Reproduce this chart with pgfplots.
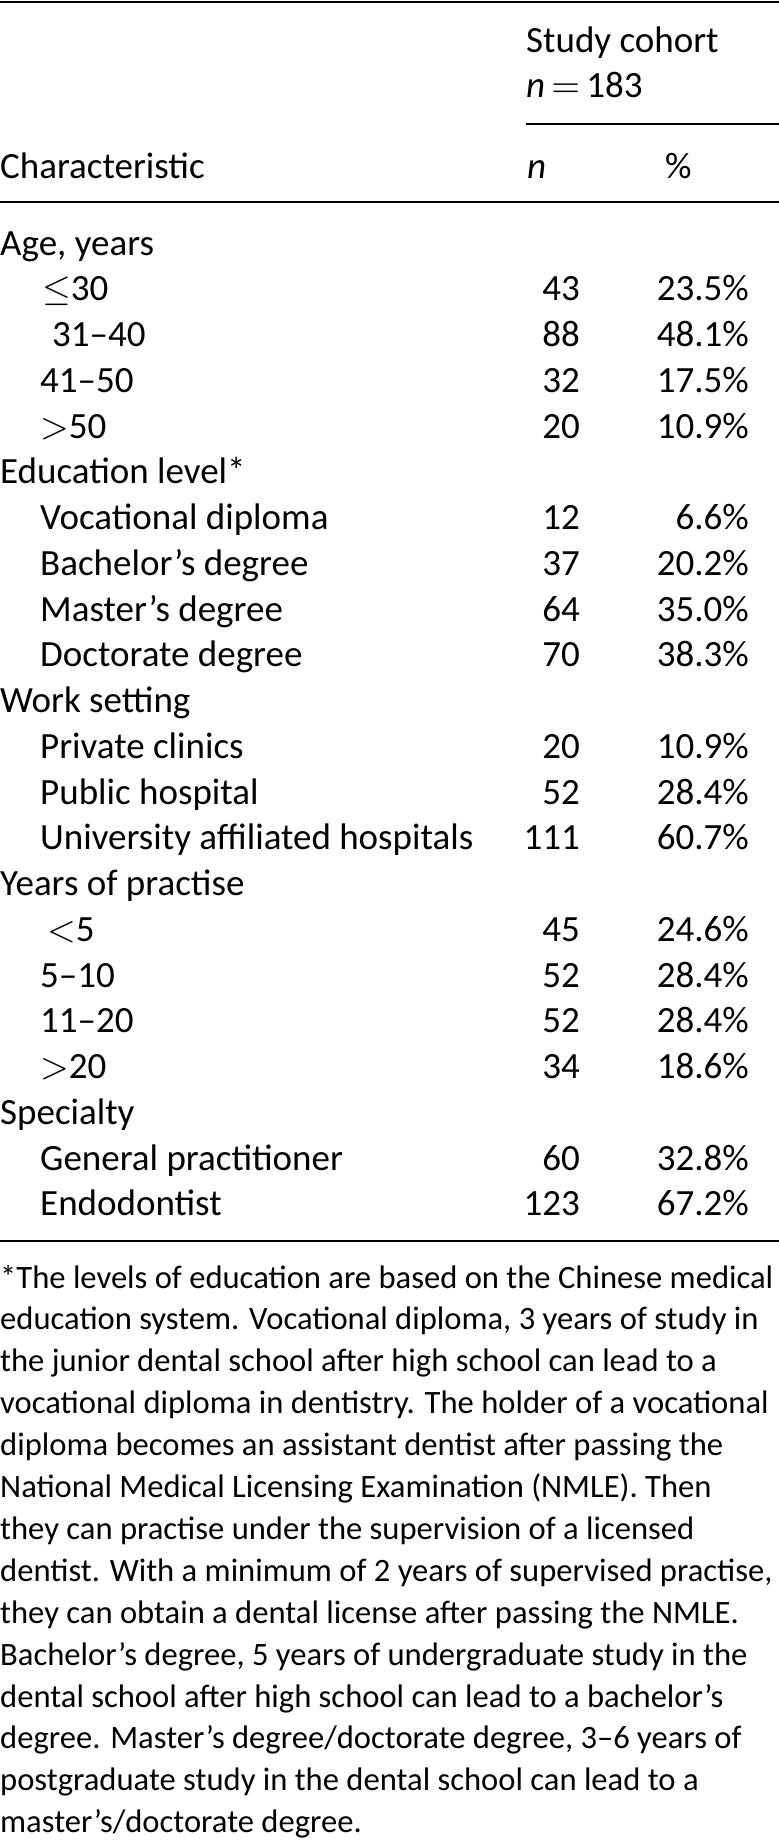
\documentclass[border=0pt]{standalone}
\usepackage{fontspec}
\setmainfont{Carlito}
\DeclareFontShape{OMS}{cmsy}{m}{n}{<->cmsy10}{}
\DeclareFontShape{OML}{cmm}{m}{it}{<->cmmi10}{}
\DeclareFontShape{OT1}{cmr}{m}{n}{<->cmr10}{}
\usepackage{pgfplots}
\pgfplotsset{compat=1.18}
\usepackage{pgfplotstable}
\newcommand\tf{\fontsize{37pt}{44pt}\selectfont}
\newcommand\ff{\fontsize{32.6pt}{40pt}\selectfont}

\pgfplotstableread[col sep=semicolon]{
x;y;label
0;255;Age, years
42;300.75;$\leq$30
52;346.5;31--40
40;392.25;41--50
40;438;$>$50
0;483.75;Education level*
40;529.5;Vocational diploma
40;575.25;Bachelor’s degree
40;621;Master’s degree
40;666.75;Doctorate degree
0;712.5;Work setting
40;758.25;Private clinics
40;804;Public hospital
40;849.75;University affiliated hospitals
0;895.5;Years of practise
47;941.25;$<$5
40;987;5--10
40;1032.75;11--20
40;1078.5;$>$20
0;1124.25;Specialty
40;1170;General practitioner
40;1215.75;Endodontist
}\labels

\pgfplotstableread{
y n pct
300.75 43 23.5
346.5 88 48.1
392.25 32 17.5
438 20 10.9
529.5 12 6.6
575.25 37 20.2
621 64 35.0
666.75 70 38.3
758.25 20 10.9
804 52 28.4
849.75 111 60.7
941.25 45 24.6
987 52 28.4
1032.75 52 28.4
1078.5 34 18.6
1170 60 32.8
1215.75 123 67.2
}\nums

\begin{document}
\begin{tikzpicture}[font=\tf]
\begin{axis}[
  scale only axis, width=779pt, height=1840pt,
  xmin=0, xmax=779, ymin=0, ymax=1840, y dir=reverse,
  hide axis, clip=false,
  every node near coord/.append style={font=\tf, text=black, inner sep=0pt},
  txt/.style={only marks, mark=*, mark size=0pt, mark options={draw=none, fill=none},
     nodes near coords, point meta=explicit symbolic},
]
\addplot[txt, every node near coord/.append style={anchor=base west}]
  table[x=x, y=y, meta=label]{\labels};
\addplot[txt, every node near coord/.append style={anchor=base east}]
  table[x expr=580, y=y, meta=n]{\nums};
\addplot[txt, nodes near coords={\pgfplotspointmeta\%}, every node near coord/.append style={anchor=base east}]
  table[x expr=749, y=y, meta=pct]{\nums};

% rules
\draw[line width=2.2pt] (axis cs:0,2) -- (axis cs:779,2);
\draw[line width=1.6pt] (axis cs:526,124) -- (axis cs:779,124);
\draw[line width=2.2pt] (axis cs:0,202) -- (axis cs:779,202);
\draw[line width=2.2pt] (axis cs:0,1241) -- (axis cs:779,1241);

% header
\node[anchor=base west, inner sep=0pt] at (axis cs:526,52) {Study cohort};
\node[anchor=base west, inner sep=0pt] at (axis cs:526,97) {\textit{n}\,$=$\,183};
\node[anchor=base west, inner sep=0pt] at (axis cs:0,178) {Characteristic};
\node[anchor=base west, inner sep=0pt] at (axis cs:527,178) {\textit{n}};
\node[anchor=base west, inner sep=0pt] at (axis cs:665,178) {\%};

% footnote
\begin{scope}[every node/.style={anchor=base west, inner sep=0pt, font=\ff}]
\node at (axis cs:0,1288) {*The levels of education are based on the Chinese medical};
\node at (axis cs:0,1329.9) {education system. Vocational diploma, 3 years of study in};
\node at (axis cs:0,1371.8) {the junior dental school after high school can lead to a};
\node at (axis cs:0,1413.7) {vocational diploma in dentistry. The holder of a vocational};
\node at (axis cs:0,1455.6) {diploma becomes an assistant dentist after passing the};
\node at (axis cs:0,1497.5) {National Medical Licensing Examination (NMLE). Then};
\node at (axis cs:0,1539.4) {they can practise under the supervision of a licensed};
\node at (axis cs:0,1581.3) {dentist. With a minimum of 2 years of supervised practise,};
\node at (axis cs:0,1623.2) {they can obtain a dental license after passing the NMLE.};
\node at (axis cs:0,1665.1) {Bachelor’s degree, 5 years of undergraduate study in the};
\node at (axis cs:0,1707) {dental school after high school can lead to a bachelor’s};
\node at (axis cs:0,1748.9) {degree. Master’s degree/doctorate degree, 3--6 years of};
\node at (axis cs:0,1790.8) {postgraduate study in the dental school can lead to a};
\node at (axis cs:0,1832.7) {master’s/doctorate degree.};
\end{scope}
\end{axis}
\pgfresetboundingbox
\path (current axis.south west) rectangle (current axis.north east);
\end{tikzpicture}
\end{document}
